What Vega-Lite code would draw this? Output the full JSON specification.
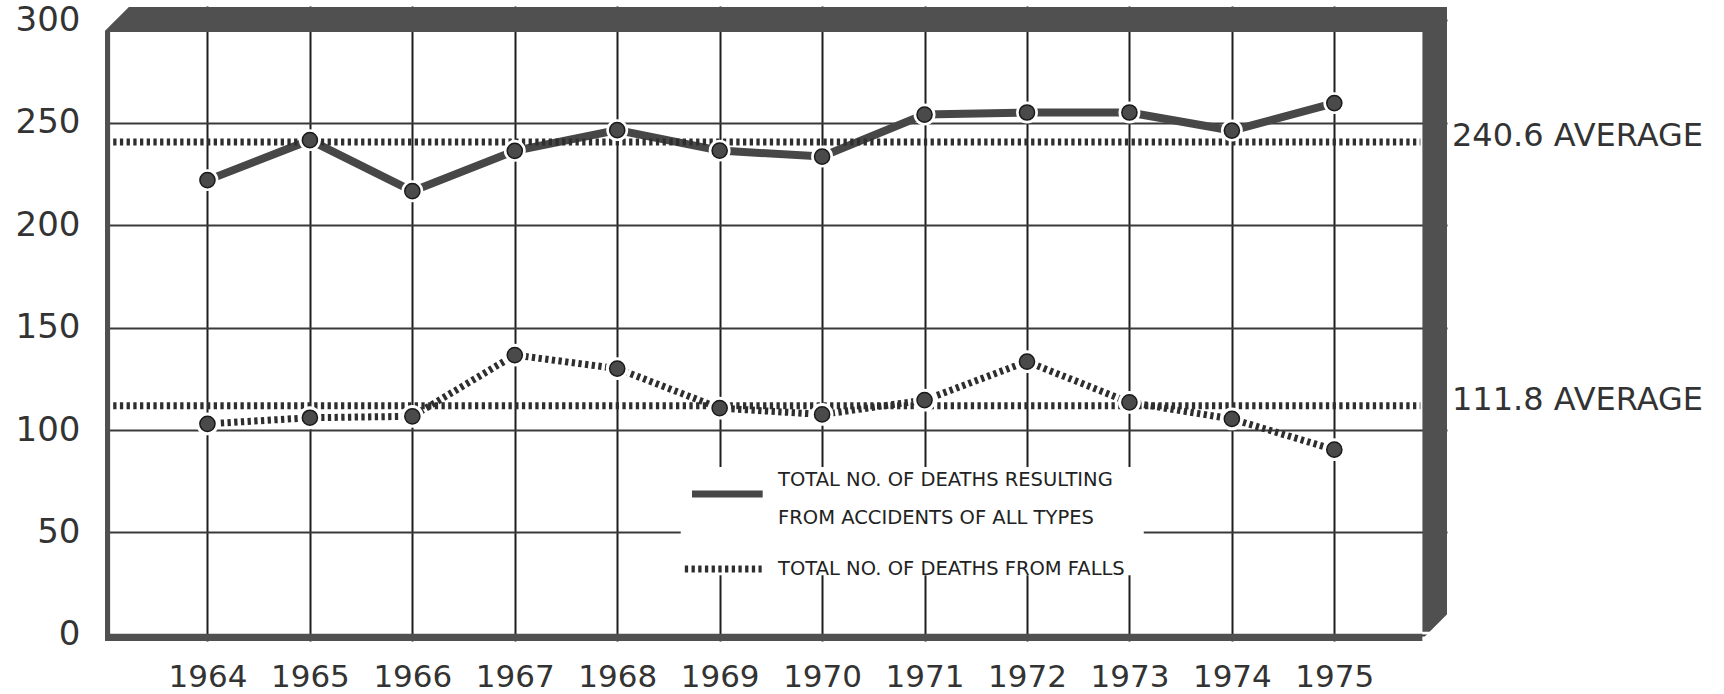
{
  "$schema": "https://vega.github.io/schema/vega-lite/v6.json",
  "width": 1342,
  "height": 635,
  "autosize": {"type": "none"},
  "padding": {"left": 105, "top": 6, "right": 277, "bottom": 53},
  "background": "white",
  "config": {"view": {"stroke": null}, "font": "DejaVu Sans"},
  "data": {"values": [{"part": "frame"}]},
  "datasets": {
    "accidents": [
      {"year": 1964, "deaths": 222},
      {"year": 1965, "deaths": 241.5},
      {"year": 1966, "deaths": 216.6},
      {"year": 1967, "deaths": 236.3},
      {"year": 1968, "deaths": 246.4},
      {"year": 1969, "deaths": 236.4},
      {"year": 1970, "deaths": 233.5},
      {"year": 1971, "deaths": 254},
      {"year": 1972, "deaths": 255},
      {"year": 1973, "deaths": 255},
      {"year": 1974, "deaths": 246.2},
      {"year": 1975, "deaths": 259.6}
    ],
    "falls": [
      {"year": 1964, "deaths": 103},
      {"year": 1965, "deaths": 106},
      {"year": 1966, "deaths": 106.7},
      {"year": 1967, "deaths": 136.6},
      {"year": 1968, "deaths": 130},
      {"year": 1969, "deaths": 110.7},
      {"year": 1970, "deaths": 107.6},
      {"year": 1971, "deaths": 114.6},
      {"year": 1972, "deaths": 133.4},
      {"year": 1973, "deaths": 113.5},
      {"year": 1974, "deaths": 105.4},
      {"year": 1975, "deaths": 90.4}
    ],
    "averages": [
      {"label": "240.6 AVERAGE", "average": 240.6},
      {"label": "111.8 AVERAGE", "average": 111.8}
    ]
  },
  "layer": [
    {
      "data": {"name": "accidents"},
      "mark": {"type": "line", "color": "#474747", "strokeWidth": 8, "strokeCap": "butt"},
      "encoding": {
        "x": {"field": "year", "type": "quantitative",
          "scale": {"domain": [1963, 1976.1], "nice": false, "zero": false},
          "axis": {"values": [1964,1965,1966,1967,1968,1969,1970,1971,1972,1973,1974,1975], "format": "d", "title": null,
            "grid": true, "gridColor": "#1e1e1e", "gridWidth": 2, "gridOpacity": 1,
            "domain": false, "ticks": false, "tickSize": 0, "labelPadding": 21,
            "labelFontSize": 31, "labelFont": "DejaVu Sans", "labelColor": "#333333",
            "labelFlush": false, "labelOverlap": false}},
        "y": {"field": "deaths", "type": "quantitative",
          "scale": {"domain": [-3, 307], "nice": false, "zero": false},
          "axis": {"values": [0,50,100,150,200,250,300], "title": null,
            "grid": true, "gridColor": "#3a3a3a", "gridWidth": 2, "gridOpacity": 1,
            "domain": false, "ticks": false, "tickSize": 0, "labelPadding": 25,
            "labelFontSize": 34, "labelFont": "DejaVu Sans", "labelColor": "#333333",
            "labelFlush": false, "labelOverlap": false}}
      }
    },
    {
      "data": {"name": "falls"},
      "mark": {"type": "line", "color": "#2e2e2e", "strokeWidth": 7, "strokeDash": [3.3, 3.4], "strokeCap": "butt"},
      "encoding": {
        "x": {"field": "year", "type": "quantitative"},
        "y": {"field": "deaths", "type": "quantitative"}
      }
    },
    {
      "data": {"name": "averages"},
      "mark": {"type": "rule", "color": "#2e2e2e", "strokeWidth": 7, "strokeDash": [3.3, 3.4], "strokeCap": "butt"},
      "encoding": {
        "x": {"datum": 1963.08, "type": "quantitative"},
        "x2": {"datum": 1975.84},
        "y": {"field": "average", "type": "quantitative"}
      }
    },
    {
      "data": {"name": "accidents"},
      "mark": {"type": "point", "shape": "circle", "filled": true, "color": "white", "size": 480, "opacity": 1},
      "encoding": {
        "x": {"field": "year", "type": "quantitative"},
        "y": {"field": "deaths", "type": "quantitative"}
      }
    },
    {
      "data": {"name": "falls"},
      "mark": {"type": "point", "shape": "circle", "filled": true, "color": "white", "size": 520, "opacity": 1},
      "encoding": {
        "x": {"field": "year", "type": "quantitative"},
        "y": {"field": "deaths", "type": "quantitative"}
      }
    },
    {
      "data": {"name": "accidents"},
      "mark": {"type": "point", "shape": "circle", "filled": true, "fill": "#4a4a4a", "stroke": "#1a1a1a", "strokeWidth": 1.5, "size": 230, "opacity": 1},
      "encoding": {
        "x": {"field": "year", "type": "quantitative"},
        "y": {"field": "deaths", "type": "quantitative"}
      }
    },
    {
      "data": {"name": "falls"},
      "mark": {"type": "point", "shape": "circle", "filled": true, "fill": "#4a4a4a", "stroke": "#1a1a1a", "strokeWidth": 1.5, "size": 230, "opacity": 1},
      "encoding": {
        "x": {"field": "year", "type": "quantitative"},
        "y": {"field": "deaths", "type": "quantitative"}
      }
    },
    {
      "mark": {"type": "rect", "color": "white"},
      "encoding": {
        "x": {"datum": 1968.62, "type": "quantitative"},
        "x2": {"datum": 1973.14},
        "y": {"datum": 29.1, "type": "quantitative"},
        "y2": {"datum": 81.95}
      }
    },
    {
      "mark": {"type": "rule", "color": "#474747", "strokeWidth": 7, "strokeCap": "butt"},
      "encoding": {
        "x": {"datum": 1968.73, "type": "quantitative"},
        "x2": {"datum": 1969.42},
        "y": {"datum": 68.8, "type": "quantitative"}
      }
    },
    {
      "mark": {"type": "rule", "color": "#2e2e2e", "strokeWidth": 7, "strokeDash": [3.3, 3.4], "strokeCap": "butt"},
      "encoding": {
        "x": {"datum": 1968.66, "type": "quantitative"},
        "x2": {"datum": 1969.41},
        "y": {"datum": 32.2, "type": "quantitative"}
      }
    },
    {
      "data": {"values": [{"label": "TOTAL NO. OF DEATHS RESULTING"}]},
      "mark": {"type": "text", "align": "left", "baseline": "middle", "fontSize": 19.5, "font": "DejaVu Sans", "color": "#222222"},
      "encoding": {
        "x": {"datum": 1969.57, "type": "quantitative"},
        "y": {"datum": 75.6, "type": "quantitative"},
        "text": {"field": "label"}
      }
    },
    {
      "data": {"values": [{"label": "FROM ACCIDENTS OF ALL TYPES"}]},
      "mark": {"type": "text", "align": "left", "baseline": "middle", "fontSize": 19.5, "font": "DejaVu Sans", "color": "#222222"},
      "encoding": {
        "x": {"datum": 1969.57, "type": "quantitative"},
        "y": {"datum": 57, "type": "quantitative"},
        "text": {"field": "label"}
      }
    },
    {
      "data": {"values": [{"label": "TOTAL NO. OF DEATHS FROM FALLS"}]},
      "mark": {"type": "text", "align": "left", "baseline": "middle", "fontSize": 19.5, "font": "DejaVu Sans", "color": "#222222"},
      "encoding": {
        "x": {"datum": 1969.57, "type": "quantitative"},
        "y": {"datum": 32.2, "type": "quantitative"},
        "text": {"field": "label"}
      }
    },
    {
      "data": {"name": "averages"},
      "mark": {"type": "text", "align": "left", "baseline": "middle", "dx": 5, "dy": -6, "fontSize": 32, "font": "DejaVu Sans", "color": "#333333"},
      "encoding": {
        "x": {"datum": 1976.1, "type": "quantitative"},
        "y": {"field": "average", "type": "quantitative"},
        "text": {"field": "label"}
      }
    },
    {
      "mark": {"type": "rect", "color": "#505050"},
      "encoding": {
        "x": {"datum": 1963, "type": "quantitative"},
        "x2": {"datum": 1963.05},
        "y": {"datum": -3, "type": "quantitative"},
        "y2": {"datum": 300}
      }
    },
    {
      "mark": {"type": "rect", "color": "#505050"},
      "encoding": {
        "x": {"datum": 1963, "type": "quantitative"},
        "x2": {"datum": 1975.86},
        "y": {"datum": -3, "type": "quantitative"},
        "y2": {"datum": 0.5}
      }
    },
    {
      "mark": {"type": "rect", "color": "#505050"},
      "encoding": {
        "x": {"datum": 1963, "type": "quantitative"},
        "x2": {"datum": 1976.1},
        "y": {"datum": 294.3, "type": "quantitative"},
        "y2": {"datum": 306.5}
      }
    },
    {
      "mark": {"type": "rect", "color": "#505050"},
      "encoding": {
        "x": {"datum": 1975.86, "type": "quantitative"},
        "x2": {"datum": 1976.1},
        "y": {"datum": 1.5, "type": "quantitative"},
        "y2": {"datum": 306.5}
      }
    },
    {
      "mark": {"type": "point", "shape": "M -1 -1 L 1 -1 L -1 1 Z", "filled": true, "color": "white", "size": 720, "opacity": 1, "strokeWidth": 0},
      "encoding": {
        "x": {"datum": 1963.112, "type": "quantitative"},
        "y": {"datum": 300.5, "type": "quantitative"}
      }
    },
    {
      "mark": {"type": "point", "shape": "M -1 1 L 1 1 L 1 -1 Z", "filled": true, "color": "white", "size": 800, "opacity": 1, "strokeWidth": 0},
      "encoding": {
        "x": {"datum": 1975.995, "type": "quantitative"},
        "y": {"datum": 4.8, "type": "quantitative"}
      }
    }
  ]
}
